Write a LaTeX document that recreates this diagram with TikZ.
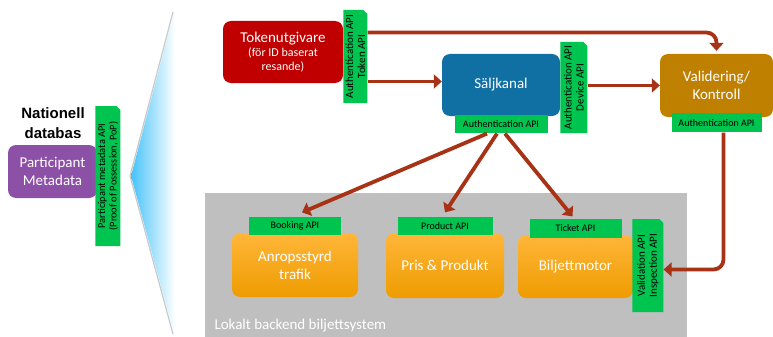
\documentclass[tikz,border=0pt]{standalone}
\usepackage{fontspec}
\setmainfont{Carlito}
\newfontfamily\headfont{Liberation Sans}
\usepackage{xcolor}
\usepackage{tikz}
\usetikzlibrary{positioning}
\usetikzlibrary{arrows.meta}
\usetikzlibrary{shapes.misc}

\definecolor{tokred}{RGB}{192,0,0}
\definecolor{saljblue}{RGB}{16,112,164}
\definecolor{validgold}{RGB}{191,128,0}
\definecolor{partpurple}{RGB}{140,80,166}
\definecolor{apigreen}{RGB}{0,196,80}
\definecolor{arrowred}{RGB}{168,50,22}
\definecolor{backgray}{RGB}{191,191,191}
\definecolor{wedgeblue}{RGB}{70,195,250}
\definecolor{orangetop}{RGB}{255,182,58}
\definecolor{orangebot}{RGB}{238,156,0}

\begin{document}
\begin{tikzpicture}[
    x = 1pt,
    y = -1pt,
    boxf/.style = {
      rectangle,
      rounded corners=8pt,
      text=white,
      align=center,
      inner sep=2pt,
      font=\fontsize{15}{18}\selectfont
    },
    tokf/.style = {
      boxf,
      fill=tokred,
      minimum width=120pt,
      minimum height=62pt
    },
    saljf/.style = {
      boxf,
      fill=saljblue,
      minimum width=118pt,
      minimum height=62pt
    },
    validf/.style = {
      boxf,
      fill=validgold,
      minimum width=113pt,
      minimum height=63pt
    },
    backf/.style = {
      boxf,
      top color=orangetop,
      bottom color=orangebot,
      minimum height=64pt
    },
    partf/.style = {
      boxf,
      fill=partpurple,
      minimum width=89pt,
      minimum height=53pt
    },
    apif/.style = {
      rectangle,
      fill=apigreen,
      inner sep=0pt,
      minimum height=18pt,
      font=\fontsize{10}{12}\selectfont
    },
    vapif/.style = {
      chamfered rectangle,
      chamfered rectangle corners=south east,
      chamfered rectangle xsep=2pt,
      chamfered rectangle ysep=2pt,
      fill=apigreen,
      rotate=90,
      anchor=north,
      align=center,
      inner sep=0pt,
      font=\fontsize{11}{12}\selectfont
    },
    flow/.style = {
      draw=arrowred,
      line width=3.8pt,
      -{Triangle[length=8pt,width=14pt]}
    }
  ]
    \useasboundingbox (0,0) rectangle (773,337);

    % left side
    \node[font=\headfont\bfseries\fontsize{15}{20}\selectfont, align=center] (natdb) at (53,123) {Nationell\\databas};
    \node[partf] (part) at (52.5,171.5) {Participant\\Metadata};
    \node[vapif, minimum width=140pt, minimum height=25pt,
      font=\fontsize{10.4}{11.5}\selectfont] (partapi)
      at ([xshift=-2pt,yshift=-4.5pt]part.east)
      {Participant metadata API\\(Proof of Possession, PoP)};

    % wedge
    \shade[left color=wedgeblue, right color=white] (131,176) -- (174,12) -- (175,12) -- (175,334) -- (174,334) -- cycle;
    \draw[gray!70, line width=1.2pt, opacity=.6] (173,12) -- (130,176) -- (173,334);

    % backend area
    \fill[backgray] (205,193) rectangle (687,337);
    \node[anchor=west, text=white, font=\fontsize{15}{17}\selectfont] (backlbl) at (211,326) {Lokalt backend biljettsystem};

    % top row
    \node[tokf, font=\fontsize{12}{14}\selectfont] (token) at (283,52)
      {{\fontsize{15}{18}\selectfont Tokenutgivare}\\(för ID baserat\\resande)};
    \node[vapif, minimum width=93pt, minimum height=24pt] (tokapi) at ([yshift=-4.5pt]token.east) {Authentication API\\Token API};
    \node[saljf] (salj) at (501,85) {Säljkanal};
    \node[vapif, minimum width=91pt, minimum height=27pt] (sapi) at ([yshift=-2.5pt]salj.east) {Authentication API\\Device API};
    \node[apif, minimum width=93pt, below=-1pt of salj] (sauth) {Authentication API};
    \node[validf] (valid) at (716.5,85.5) {Validering/\\Kontroll};
    \node[apif, minimum width=90pt, minimum height=19pt, below=-4pt of valid] (vauth) {Authentication API};

    % backend row
    \node[backf, minimum width=126pt] (anrop) at (295,265) {Anropsstyrd\\trafik};
    \node[apif, minimum width=92pt, above=-2pt of anrop] (book) {Booking API};
    \node[backf, minimum width=118pt, minimum height=65pt] (pris) at (445,265.5) {Pris \& Produkt};
    \node[apif, minimum width=95pt, above=-2pt of pris] (prod) {Product API};
    \node[backf, minimum width=115pt, minimum height=63pt] (bilj) at (575.5,266.5) {Biljettmotor};
    \node[apif, minimum width=92pt, minimum height=19pt, above=-3pt of bilj] (tick) {Ticket API};
    \node[vapif, minimum width=93pt, minimum height=31pt] (vtab) at ([xshift=-1pt,yshift=1pt]bilj.east) {Validation API\\Inspection API};

    % connectors
    \draw[flow, rounded corners=10pt, shorten >=3pt] ([yshift=24pt]tokapi.south) -| (valid.north);
    \draw[flow] ([yshift=-25pt]tokapi.south) -- ([yshift=-25pt]tokapi.south -| salj.west);
    \draw[flow] (sapi.south |- valid.west) -- (valid.west);
    \draw[flow, rounded corners=10pt] ([xshift=7pt]vauth.south) |- ([yshift=-4pt]vtab.south);
    \draw[flow] ([xshift=-14pt]sauth.south) -- ([xshift=7pt,yshift=4pt]book.north);
    \draw[flow] ([xshift=-4pt]sauth.south) -- ([yshift=4pt]prod.north);
    \draw[flow] ([xshift=4pt]sauth.south) -- ([xshift=-3pt,yshift=2pt]tick.north);
\end{tikzpicture}
\end{document}
